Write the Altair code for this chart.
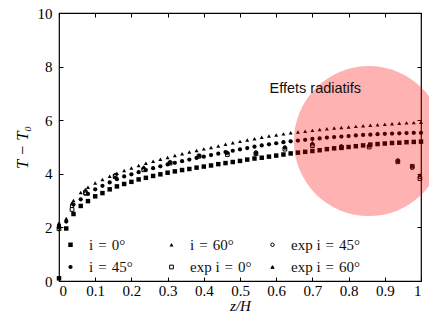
import altair as alt
import pandas as pd

# ---------------- data ----------------
z_model = [0.00, 0.02, 0.04, 0.06, 0.08, 0.10, 0.12, 0.14, 0.16, 0.18,
           0.20, 0.22, 0.24, 0.26, 0.28, 0.30, 0.32, 0.34, 0.36, 0.38,
           0.40, 0.42, 0.44, 0.46, 0.48, 0.50, 0.52, 0.54, 0.56, 0.58,
           0.60, 0.62, 0.64, 0.66, 0.68, 0.70, 0.72, 0.74, 0.76, 0.78,
           0.80, 0.82, 0.84, 0.86, 0.88, 0.90, 0.92, 0.94, 0.96, 0.98, 1.00]

T_i0 = [0.10, 1.96, 2.50, 2.80, 2.98, 3.16, 3.28, 3.42, 3.53, 3.62,
        3.70, 3.79, 3.85, 3.92, 3.98, 4.04, 4.09, 4.14, 4.18, 4.23,
        4.27, 4.31, 4.36, 4.40, 4.44, 4.48, 4.53, 4.57, 4.60, 4.64,
        4.68, 4.72, 4.76, 4.79, 4.82, 4.85, 4.88, 4.92, 4.95, 4.98,
        5.00, 5.03, 5.06, 5.09, 5.11, 5.13, 5.15, 5.16, 5.18, 5.19, 5.20]

T_i45 = [2.00, 2.22, 2.85, 3.05, 3.25, 3.42, 3.55, 3.68, 3.80, 3.90,
         3.98, 4.06, 4.14, 4.21, 4.28, 4.35, 4.41, 4.47, 4.53, 4.59,
         4.64, 4.70, 4.75, 4.81, 4.86, 4.91, 4.96, 5.01, 5.06, 5.10,
         5.14, 5.18, 5.21, 5.24, 5.27, 5.30, 5.32, 5.35, 5.37, 5.39,
         5.41, 5.43, 5.45, 5.46, 5.48, 5.49, 5.50, 5.51, 5.52, 5.53, 5.53]

T_i60 = [2.10, 2.33, 3.00, 3.30, 3.50, 3.66, 3.79, 3.91, 4.02, 4.12,
         4.22, 4.31, 4.39, 4.47, 4.54, 4.61, 4.68, 4.75, 4.81, 4.87,
         4.93, 4.98, 5.04, 5.10, 5.16, 5.21, 5.26, 5.31, 5.36, 5.41,
         5.45, 5.49, 5.53, 5.56, 5.59, 5.62, 5.65, 5.68, 5.71, 5.73,
         5.75, 5.77, 5.79, 5.81, 5.83, 5.85, 5.87, 5.89, 5.90, 5.91, 5.92]

z_exp = [0.000, 0.036, 0.073, 0.155, 0.234, 0.307, 0.387, 0.465,
         0.544, 0.624, 0.700, 0.780, 0.857, 0.936, 0.976, 0.997]
T_exp0 = [1.95, 2.67, 3.30, 3.90, 4.15, 4.40, 4.66, 4.72,
          4.75, 4.92, 5.05, 4.97, 5.00, 4.45, 4.28, 3.82]
T_exp45 = [2.05, 2.80, 3.25, 3.95, 4.20, 4.43, 4.65, 4.78,
           4.80, 4.98, 5.10, 5.02, 5.05, 4.50, 4.22, 3.88]
T_exp60 = [2.15, 2.90, 3.40, 3.88, 4.25, 4.42, 4.70, 4.80,
           4.78, 5.00, 5.15, 5.05, 5.08, 4.48, 4.30, 3.95]

x_ticks = [0, 0.1, 0.2, 0.3, 0.4, 0.5, 0.6, 0.7, 0.8, 0.9, 1]
y_ticks = [0, 2, 4, 6, 8, 10]

SP = "\u2004"  # math-like spacing around '='
names = ["i" + SP + "=" + SP + "0°", "i" + SP + "=" + SP + "45°", "i" + SP + "=" + SP + "60°",
         "exp i" + SP + "=" + SP + "0°", "exp i" + SP + "=" + SP + "45°", "exp i" + SP + "=" + SP + "60°"]

# legend order (filled column by column, 2 rows x 3 columns)
series_order = names
shapes = ["square", "circle", "triangle-up", "square", "circle", "triangle-up"]
sizes = [20, 10, 9, 12, 9, 12]
fills = ["black", "black", "black", "transparent", "transparent", "black"]
strokes = ["transparent", "transparent", "transparent", "black", "black", "black"]

circle_x = [0.856]
circle_y = [5.22]
note_x = [0.708]
note_y = [7.02]
note_text = ["Effets radiatifs"]

# ---------------- tables ----------------
rows = []
for name, vals in [(names[0], T_i0), (names[1], T_i45), (names[2], T_i60)]:
    for z, t in zip(z_model, vals):
        rows.append({"z": z, "T": t, "series": name})
for name, vals in [(names[3], T_exp0), (names[4], T_exp45), (names[5], T_exp60)]:
    for z, t in zip(z_exp, vals):
        rows.append({"z": z, "T": t, "series": name})
df = pd.DataFrame(rows)

circ_df = pd.DataFrame({"x": circle_x, "y": circle_y})
note_df = pd.DataFrame({"x": note_x, "y": note_y, "label": note_text})

SERIF = "Liberation Serif"
xscale = alt.Scale(domain=[0, 1], nice=False, zero=False)
yscale = alt.Scale(domain=[0, 10], nice=False, zero=False)

leg = alt.Legend(
    title=None, orient="none", legendX=4, legendY=224, columns=3,
    direction="vertical",
    gridAlign="all", columnPadding=5, rowPadding=6.5, padding=0,
    labelFont=SERIF, labelFontSize=15, labelColor="#111", labelOffset=11,
    labelLimit=200, symbolStrokeWidth=1,
)

points = alt.Chart(df).mark_point(opacity=1, strokeWidth=1).encode(
    x=alt.X("z:Q", scale=xscale,
            axis=alt.Axis(orient="bottom", values=x_ticks, format="~r",
                          title="z/H", titleFontStyle="italic",
                          offset=-4, domain=False, tickSize=4,
                          labelPadding=2, titlePadding=0, grid=False)),
    y=alt.Y("T:Q", scale=yscale,
            axis=alt.Axis(orient="left", values=y_ticks, format="~r",
                          title="T − T₀", titleFontStyle="italic", titleFontSize=16.5,
                          offset=-4, domain=False, tickSize=4,
                          labelPadding=7, titlePadding=7, grid=False)),
    shape=alt.Shape("series:N", scale=alt.Scale(domain=series_order, range=shapes), legend=leg),
    size=alt.Size("series:N", scale=alt.Scale(domain=series_order, range=sizes), legend=leg),
    fill=alt.Fill("series:N", scale=alt.Scale(domain=series_order, range=fills), legend=leg),
    stroke=alt.Stroke("series:N", scale=alt.Scale(domain=series_order, range=strokes), legend=leg),
)

circle = alt.Chart(circ_df).mark_point(
    shape="circle", filled=True, size=22500, color="#ff0000", opacity=0.3
).encode(
    x=alt.X("x:Q", scale=xscale, axis=None),
    y=alt.Y("y:Q", scale=yscale, axis=None),
)

note = alt.Chart(note_df).mark_text(
    font="Liberation Sans", fontSize=14.5, color="#111",
    align="center", baseline="alphabetic"
).encode(
    x=alt.X("x:Q", scale=xscale,
            axis=alt.Axis(orient="top", values=x_ticks, labels=False, title=None,
                          offset=-4, domain=False, tickSize=4, grid=False)),
    y=alt.Y("y:Q", scale=yscale,
            axis=alt.Axis(orient="right", values=y_ticks, labels=False, title=None,
                          offset=-4, domain=False, tickSize=4, grid=False)),
    text="label:N",
)

chart = alt.layer(points, circle, note).resolve_axis(
    x="independent", y="independent"
).properties(
    width=362, height=268,
    autosize=alt.AutoSizeParams(type="none"),
    padding={"left": 51, "top": 5, "right": 8, "bottom": 32},
).configure_view(
    stroke="black", strokeWidth=1.2
).configure_axis(
    labelFont=SERIF, labelFontSize=15, labelColor="black",
    titleFont=SERIF, titleFontSize=15, titleFontWeight="normal", titleColor="black",
    tickColor="black", tickWidth=1,
)

chart.save("out.html", embed_options={"renderer": "svg", "actions": False})
